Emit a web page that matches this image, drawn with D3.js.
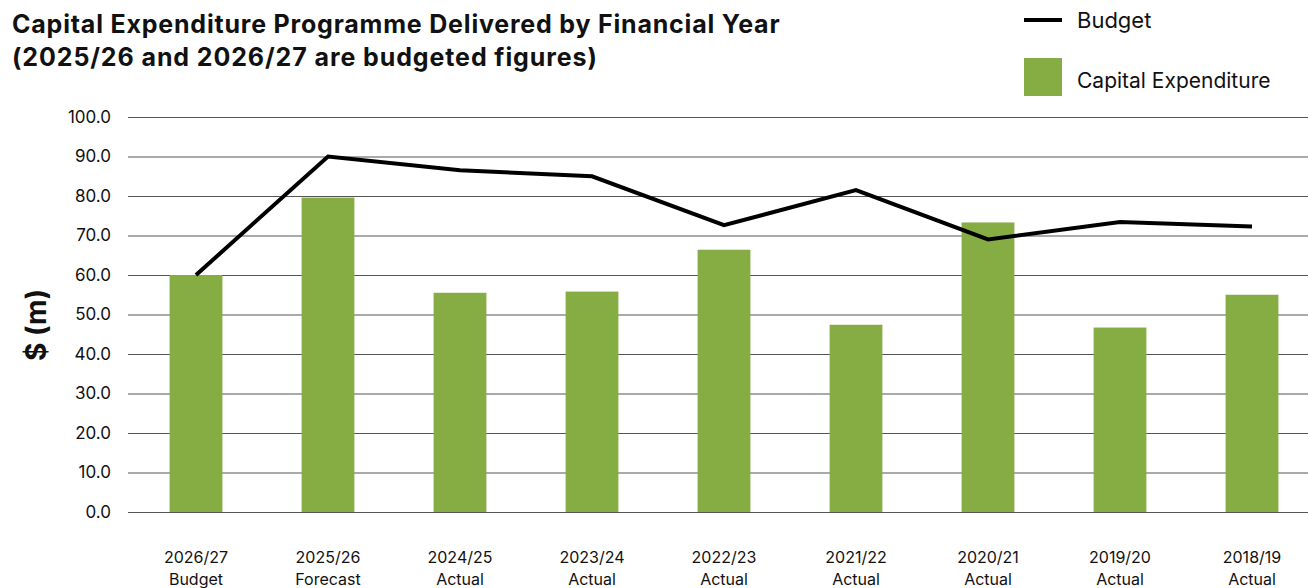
<!DOCTYPE html>
<html>
<head>
<meta charset="utf-8">
<script src="https://cdn.jsdelivr.net/npm/d3@7"></script>
<style>
  body { margin: 0; background: #fff; }
  text { font-family: Inter, "Noto Sans", sans-serif; fill: #111; }
</style>
</head>
<body>
<div id="my_dataviz"></div>
<script>
var width = 1308
var height = 588

// data
var years = ["2026/27", "2025/26", "2024/25", "2023/24", "2022/23", "2021/22", "2020/21", "2019/20", "2018/19"]
var kinds = ["Budget", "Forecast", "Actual", "Actual", "Actual", "Actual", "Actual", "Actual", "Actual"]
var capex = [60.0, 79.6, 55.5, 55.8, 66.4, 47.4, 73.3, 46.7, 55.0]
var budget = [60.0, 90.0, 86.5, 85.0, 72.6, 81.5, 69.0, 73.4, 72.3]
var yTicks = [0, 10, 20, 30, 40, 50, 60, 70, 80, 90, 100]

var green = "#85ad43"

var svg = d3.select("#my_dataviz")
    .append("svg")
    .attr("width", width)
    .attr("height", height)

var x = d3.scaleBand()
    .domain(years)
    .range([130, 1318])
    .paddingInner(0.6)
    .paddingOuter(0.3)

var y = d3.scaleLinear()
    .domain([0, 100])
    .range([512, 117])

// gridlines + tick labels
var yAxis = svg.append("g")
    .attr("transform", "translate(128,0)")
    .call(d3.axisLeft(y).tickValues(yTicks).tickFormat(d3.format(".1f")).tickSize(-1200).tickPadding(17))
yAxis.select(".domain").remove()
yAxis.selectAll(".tick line").attr("stroke", "#555").attr("stroke-width", 1)
yAxis.selectAll(".tick text").style("font-size", "17px").attr("fill", "#111")

// bars
svg.selectAll("rect.bar")
    .data(capex)
    .enter()
    .append("rect")
    .attr("class", "bar")
    .attr("x", function(d, i) { return x(years[i]) })
    .attr("y", function(d) { return y(d) })
    .attr("width", x.bandwidth())
    .attr("height", function(d) { return y(0) - y(d) })
    .attr("fill", green)

// budget line
var line = d3.line()
    .x(function(d, i) { return x(years[i]) + x.bandwidth() / 2 })
    .y(function(d) { return y(d) })
svg.append("path")
    .datum(budget)
    .attr("d", line)
    .attr("fill", "none")
    .attr("stroke", "#000")
    .attr("stroke-width", 4)

// x labels, two lines
var xl = svg.selectAll("text.xl")
    .data(years)
    .enter()
    .append("text")
    .attr("class", "xl")
    .attr("text-anchor", "middle")
    .attr("x", function(d) { return x(d) + x.bandwidth() / 2 })
    .attr("y", 563)
    .style("font-size", "16px")
xl.append("tspan").text(function(d) { return d })
xl.append("tspan")
    .attr("x", function(d) { return x(d) + x.bandwidth() / 2 })
    .attr("dy", 22)
    .text(function(d, i) { return kinds[i] })

// y title
svg.append("text")
    .attr("transform", "translate(46,325) rotate(-90)")
    .attr("text-anchor", "middle")
    .style("font-size", "28px")
    .style("font-weight", "bold")
    .text("$ (m)")

// title
svg.append("text")
    .attr("x", 12)
    .attr("y", 33)
    .style("font-size", "25px")
    .style("font-weight", "bold")
    .style("letter-spacing", "0.8px")
    .text("Capital Expenditure Programme Delivered by Financial Year")
svg.append("text")
    .attr("x", 12)
    .attr("y", 66)
    .style("font-size", "25px")
    .style("font-weight", "bold")
    .style("letter-spacing", "0.9px")
    .text("(2025/26 and 2026/27 are budgeted figures)")

// legend
svg.append("line")
    .attr("x1", 1024).attr("x2", 1062)
    .attr("y1", 20).attr("y2", 20)
    .attr("stroke", "#000")
    .attr("stroke-width", 4)
svg.append("text")
    .attr("x", 1077).attr("y", 28)
    .style("font-size", "22px")
    .text("Budget")
svg.append("rect")
    .attr("x", 1024).attr("y", 58)
    .attr("width", 38).attr("height", 38)
    .attr("fill", green)
svg.append("text")
    .attr("x", 1077).attr("y", 88)
    .style("font-size", "21px")
    .text("Capital Expenditure")
</script>
</body>
</html>
